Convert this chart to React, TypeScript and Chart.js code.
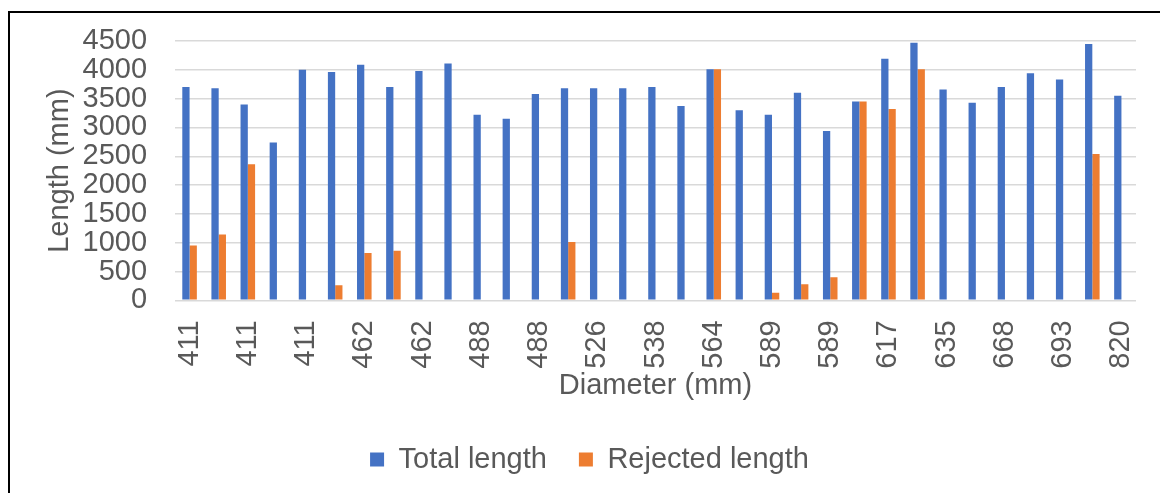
import React, { useEffect, useRef } from "react";
import { Chart, registerables } from "chart.js";

Chart.register(...registerables);

const diameters = [
  "411", "411", "411", "411", "411", "462", "462", "462", "462", "488", "488",
  "488", "488", "508", "526", "538", "538", "564", "564", "589", "589", "589",
  "589", "610", "617", "617", "635", "660", "668", "686", "693", "762", "820",
];

const totalLength = [
  3700, 3680, 3400, 2740, 4000, 3960, 4090, 3700, 3980, 4110, 3220,
  3150, 3580, 3680, 3680, 3680, 3700, 3370, 4010, 3300, 3220, 3600,
  2940, 3450, 4190, 4470, 3660, 3430, 3700, 3940, 3830, 4450, 3550,
];

const rejectedLength = [
  950, 1140, 2360, 0, 0, 260, 820, 860, 0, 0, 0,
  0, 0, 1010, 0, 0, 0, 0, 4010, 0, 130, 280,
  400, 3450, 3320, 4010, 0, 0, 0, 0, 0, 2540, 0,
];

const yTicks = [0, 500, 1000, 1500, 2000, 2500, 3000, 3500, 4000, 4500];

const FONT = "'Liberation Sans', Arial, sans-serif";
const TEXT = "#595959";
const FS = 29;

const zeroPad = (scale: any) => {
  scale.paddingLeft = 0;
  scale.paddingRight = 0;
  scale.paddingTop = 0;
  scale.paddingBottom = 0;
};

export default function App() {
  const ref = useRef<HTMLCanvasElement | null>(null);

  useEffect(() => {
    if (!ref.current) return;
    const chart = new Chart(ref.current, {
      type: "bar",
      data: {
        labels: diameters,
        datasets: [
          {
            label: "Total length",
            data: totalLength,
            backgroundColor: "#4472C4",
            borderWidth: 0,
            categoryPercentage: 0.5,
            barPercentage: 1,
          },
          {
            label: "Rejected length",
            data: rejectedLength,
            backgroundColor: "#ED7D31",
            borderWidth: 0,
            categoryPercentage: 0.5,
            barPercentage: 1,
          },
        ],
      },
      options: {
        responsive: false,
        animation: false,
        devicePixelRatio: 1,
        layout: { padding: { left: 43, right: 24, top: 41, bottom: 9 } },
        plugins: {
          legend: {
            position: "bottom",
            labels: {
              boxWidth: 14,
              boxHeight: 14,
              padding: 32,
              color: TEXT,
              font: { family: FONT, size: FS },
            },
          },
          tooltip: { enabled: false },
        },
        scales: {
          x: {
            grid: { display: false, drawTicks: false },
            border: { display: false },
            afterFit: zeroPad,
            ticks: {
              autoSkip: false,
              minRotation: 90,
              maxRotation: 90,
              padding: 20,
              color: TEXT,
              font: { family: FONT, size: FS },
              callback: function (this: any, value: any, index: number) {
                return index % 2 === 0 ? diameters[index] : "";
              },
            },
            title: {
              display: true,
              text: "Diameter (mm)",
              color: TEXT,
              font: { family: FONT, size: FS },
              padding: { top: -20.1, bottom: 9.6 },
            },
          },
          y: {
            min: 0,
            max: 4500,
            grid: { color: "#D9D9D9", lineWidth: 1.5, drawTicks: false },
            border: { display: false },
            afterFit: zeroPad,
            afterBuildTicks: (scale: any) => {
              scale.ticks = yTicks.map((v) => ({ value: v }));
            },
            ticks: {
              autoSkip: false,
              padding: 28,
              color: TEXT,
              font: { family: FONT, size: FS },
              callback: (value: any) => String(value),
            },
            title: {
              display: true,
              text: "Length (mm)",
              color: TEXT,
              font: { family: FONT, size: FS },
              padding: { top: 0, bottom: -23.3 },
            },
          },
        },
      },
    });
    return () => chart.destroy();
  }, []);

  return (
    <div style={{ position: "fixed", left: 0, top: 0, width: 1160, height: 493, background: "#fff" }}>
      <div
        style={{
          position: "absolute",
          left: 8,
          top: 11,
          right: 0,
          bottom: 0,
          borderTop: "2px solid #000",
          borderLeft: "2px solid #000",
        }}
      />
      <canvas ref={ref} width={1160} height={493} style={{ position: "absolute", left: 0, top: 0, width: 1160, height: 493 }} />
    </div>
  );
}
